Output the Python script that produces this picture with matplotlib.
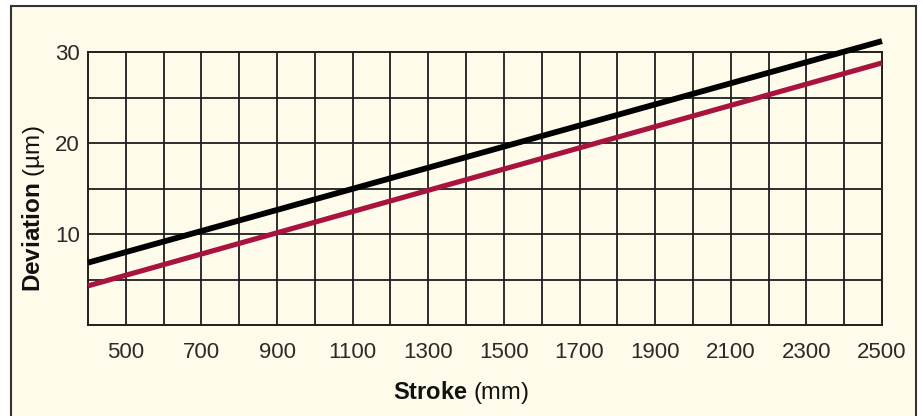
import numpy as np
import matplotlib.pyplot as plt
from matplotlib.patches import Rectangle

plt.rcParams['font.family'] = ['Liberation Sans', 'DejaVu Sans']
plt.rcParams['mathtext.fontset'] = 'custom'
plt.rcParams['mathtext.rm'] = 'Liberation Sans'
plt.rcParams['mathtext.bf'] = 'Liberation Sans:bold'

# Datos
stroke = [400, 2500]
dev_negra = [6.85, 31.2]
dev_roja = [4.3, 28.8]
xticks = [500, 700, 900, 1100, 1300, 1500, 1700, 1900, 2100, 2300, 2500]
yticks = [10, 20, 30]

crema = '#FFFBEA'
rojo = '#A8133F'
gris = '#1E1E1E'

fig = plt.figure(figsize=(9.23, 4.16), dpi=100)
fig.patch.set_facecolor('white')

# marco del fondo
fig.patches.append(Rectangle((11/923, -0.1), 905/923, 1.1 - 6/416,
                             transform=fig.transFigure, facecolor=crema,
                             edgecolor='#333333', lw=1.5, zorder=-5))

ax = fig.add_axes([88/923, 91/416, 794/923, 273/416])
ax.set_zorder(2)
ax.set_facecolor(crema)
ax.set_xlim(400, 2500)
ax.set_ylim(0, 30)

# cuadricula
for xv in range(500, 2500, 100):
    ax.axvline(xv, color=gris, lw=1.3, zorder=1)
for yv in range(5, 30, 5):
    ax.axhline(yv, color=gris, lw=1.3, zorder=1)
for s in ax.spines.values():
    s.set_color(gris)
    s.set_linewidth(1.4)

ax.plot(stroke, dev_negra, color='black', lw=4.2, solid_capstyle='butt', clip_on=False, zorder=3)
ax.plot(stroke, dev_roja, color=rojo, lw=3.7, solid_capstyle='butt', clip_on=False, zorder=3)

ax.set_xticks(xticks)
ax.set_yticks(yticks)
ax.tick_params(length=0, labelsize=16, labelcolor='#2a2a2a')
ax.tick_params(axis='x', pad=12)
ax.tick_params(axis='y', pad=6)

fig.text(461/923, 1 - 393/416, r'$\mathbf{Stroke}$ (mm)', ha='center', va='center',
         fontsize=17, color='#111111')
fig.text(34/923, 1 - 209/416, r'$\mathbf{Deviation}$ (µm)', ha='center', va='center',
         rotation=90, fontsize=17.5, color='#111111')

fig.savefig('out.png', dpi=100, facecolor=fig.get_facecolor())
